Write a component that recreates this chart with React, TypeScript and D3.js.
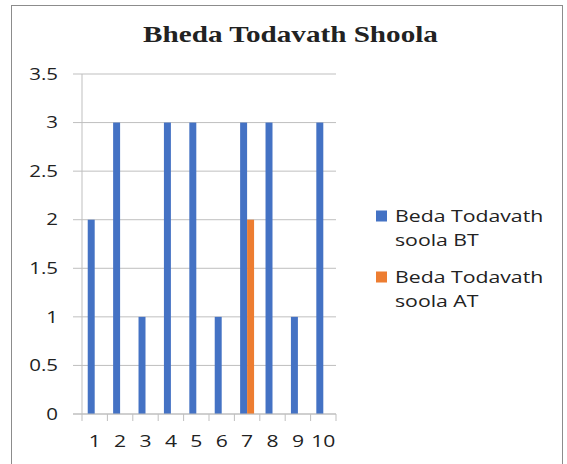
import * as d3 from "d3";

const categories = ["1", "2", "3", "4", "5", "6", "7", "8", "9", "10"];
const seriesNames = ["Beda Todavath soola BT", "Beda Todavath soola AT"];
const valuesBT = [2, 3, 1, 3, 3, 1, 3, 3, 1, 3];
const valuesAT = [0, 0, 0, 0, 0, 0, 2, 0, 0, 0];
const yTicks = [0, 0.5, 1, 1.5, 2, 2.5, 3, 3.5];
const colors = ["#4472C4", "#ED7D31"];

const W = 567, H = 464;
const plot = { left: 82, right: 336, top: 74, bottom: 414 };
const font = "'Open Sans', sans-serif";

// the original picture is stretched sideways, so text is too
const Txt = ({ x, y, sx, anchor = "start", size, family = font, weight = "normal", dy = "0", children }: any) => (
  <text
    transform={`translate(${x},${y}) scale(${sx},1)`}
    textAnchor={anchor}
    dy={dy}
    fontFamily={family}
    fontWeight={weight}
    fontSize={size}
    fill="#222"
  >
    {children}
  </text>
);

export default function App() {
  const x = d3.scaleBand<string>().domain(categories).range([plot.left, plot.right]).padding(0);
  const xSub = d3.scaleBand<string>().domain(["BT", "AT"]).range([0, x.bandwidth()]).paddingOuter(0.82).paddingInner(0);
  const y = d3.scaleLinear().domain([0, 3.5]).range([plot.bottom, plot.top]);

  const series = [
    { key: "BT", values: valuesBT, color: colors[0] },
    { key: "AT", values: valuesAT, color: colors[1] },
  ];

  const boundaries = categories.map((c) => x(c) as number).concat([plot.right]);

  return (
    <svg width={W} height={H} style={{ position: "absolute", left: 0, top: 0, background: "#fff" }}>
      <rect x={11.5} y={5.5} width={551} height={470} fill="#fff" stroke="#8c8c8c" strokeWidth={1} />
      <Txt x={290.5} y={42.3} sx={1.215} anchor="middle" size={24} family="'Liberation Serif', serif" weight="bold">
        Bheda Todavath Shoola
      </Txt>

      {/* gridlines + y labels */}
      {yTicks.map((t) => (
        <g key={t}>
          <line x1={73} x2={plot.right} y1={y(t)} y2={y(t)} stroke="#bfbfbf" strokeWidth={1} />
          <Txt x={58} y={y(t)} dy="0.36em" sx={1.28} anchor="end" size={16}>
            {t}
          </Txt>
        </g>
      ))}
      <line x1={plot.left} x2={plot.left} y1={plot.top} y2={plot.bottom} stroke="#bfbfbf" strokeWidth={1} />

      {/* bars */}
      {series.map((s) =>
        s.values.map((v, i) =>
          v > 0 ? (
            <rect
              key={s.key + i}
              x={(x(categories[i]) as number) + (xSub(s.key) as number)}
              y={y(v)}
              width={xSub.bandwidth()}
              height={y(0) - y(v)}
              fill={s.color}
            />
          ) : null
        )
      )}

      {/* x axis */}
      <line x1={73} x2={plot.right} y1={plot.bottom} y2={plot.bottom} stroke="#bfbfbf" strokeWidth={1} />
      {boundaries.map((b, i) => (
        <line key={i} x1={b} x2={b} y1={plot.bottom} y2={plot.bottom + 7} stroke="#bfbfbf" strokeWidth={1} />
      ))}
      {categories.map((c) => (
        <Txt key={c} x={(x(c) as number) + x.bandwidth() / 2} y={447.3} sx={1.28} anchor="middle" size={16.5}>
          {c}
        </Txt>
      ))}

      {/* legend */}
      {seriesNames.map((name, i) => {
        const words = name.split(" ");
        const top = 210.5 + i * 61;
        return (
          <g key={name}>
            <rect x={376} y={top} width={11} height={11} fill={colors[i]} />
            <Txt x={395} y={top + 11.5} sx={1.25} size={17}>
              {words.slice(0, 2).join(" ")}
            </Txt>
            <Txt x={395} y={top + 35} sx={1.25} size={17}>
              {words.slice(2).join(" ")}
            </Txt>
          </g>
        );
      })}
    </svg>
  );
}
